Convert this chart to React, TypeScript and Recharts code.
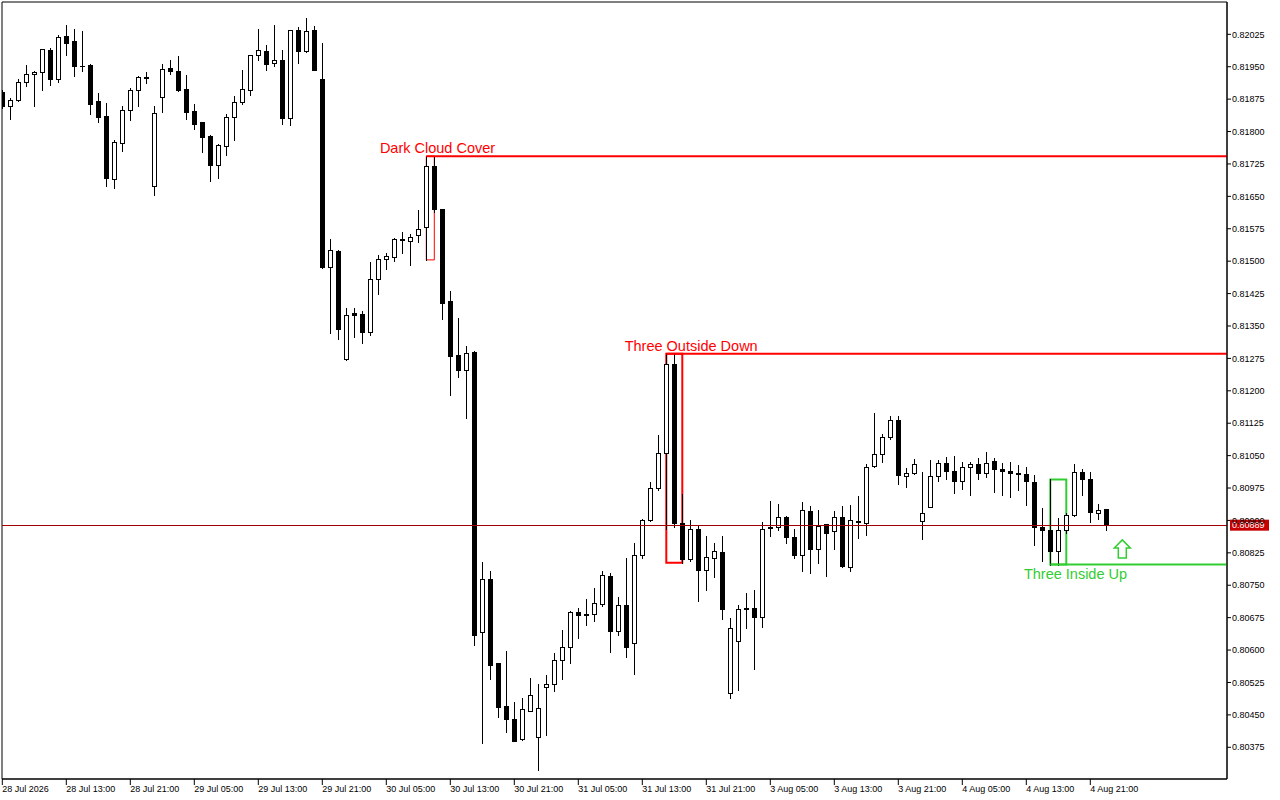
import React from "react";
import { Bar, ComposedChart, ReferenceArea, ReferenceDot, ReferenceLine, XAxis, YAxis } from "recharts";

// hourly OHLC, 28 Jul 05:00 .. 4 Aug 23:00
const opens = [
  0.81892, 0.81858, 0.81872, 0.81914, 0.81933, 0.81937, 0.81988, 0.81922, 0.8202, 0.82009,
  0.81952, 0.81954, 0.8187, 0.81835, 0.81691, 0.81773, 0.81849, 0.81895, 0.81926, 0.81673,
  0.81881, 0.81946, 0.8194, 0.81898, 0.81847, 0.81821, 0.8179, 0.81723, 0.81767, 0.81833,
  0.81869, 0.81897, 0.81976, 0.81986, 0.81958, 0.81965, 0.81831, 0.82034, 0.81987, 0.82034,
  0.81922, 0.81487, 0.81524, 0.81273, 0.81379, 0.81378, 0.81337, 0.81458, 0.81504, 0.8151,
  0.81551, 0.81547, 0.8156, 0.81578, 0.8172, 0.8162, 0.81408, 0.81283, 0.81247, 0.8129,
  0.80641, 0.80764, 0.8057, 0.80471, 0.80441, 0.80394, 0.8046, 0.80398, 0.80514, 0.80521,
  0.80576, 0.80608, 0.80688, 0.80684, 0.80683, 0.80707, 0.80771, 0.80645, 0.80704, 0.80616,
  0.80819, 0.809, 0.80974, 0.81056, 0.81261, 0.80894, 0.8081, 0.8088, 0.80785, 0.80812,
  0.80827, 0.805, 0.80622, 0.80698, 0.80697, 0.80677, 0.80885, 0.80884, 0.80907, 0.80861,
  0.80819, 0.80921, 0.80835, 0.80891, 0.80875, 0.80907, 0.80793, 0.80898, 0.80893, 0.81025,
  0.81053, 0.81092, 0.81132, 0.81002, 0.81009, 0.80898, 0.80931, 0.81002, 0.81032, 0.81014,
  0.80991, 0.81023, 0.8103, 0.81009, 0.81037, 0.81018, 0.81014, 0.81009, 0.81007, 0.80988,
  0.80884, 0.80879, 0.80829, 0.80877, 0.80912, 0.81012, 0.80995, 0.80917, 0.80926,
];
const highs = [
  0.81896, 0.81878, 0.81922, 0.81954, 0.81939, 0.81991, 0.81993, 0.82023, 0.82047, 0.82037,
  0.82033, 0.81956, 0.81889, 0.81865, 0.8178, 0.81858, 0.819, 0.81928, 0.81938, 0.81858,
  0.81956, 0.81965, 0.81975, 0.81931, 0.81864, 0.81822, 0.81791, 0.81771, 0.81841, 0.81882,
  0.81942, 0.81977, 0.82037, 0.82, 0.82047, 0.81988, 0.82035, 0.82041, 0.82062, 0.82044,
  0.82006, 0.81552, 0.81526, 0.81391, 0.81391, 0.81385, 0.81499, 0.81514, 0.8152, 0.81553,
  0.81567, 0.81562, 0.81618, 0.81743, 0.81743, 0.81621, 0.81431, 0.81368, 0.81304, 0.81291,
  0.80804, 0.80783, 0.80571, 0.80598, 0.80479, 0.80489, 0.80536, 0.80522, 0.80542, 0.80593,
  0.80647, 0.80691, 0.80697, 0.80718, 0.80744, 0.80783, 0.80778, 0.80723, 0.80814, 0.80847,
  0.80903, 0.80989, 0.81097, 0.81285, 0.81286, 0.80961, 0.809, 0.80886, 0.80864, 0.80847,
  0.80864, 0.80674, 0.80704, 0.80732, 0.80739, 0.80897, 0.80945, 0.80938, 0.8091, 0.8088,
  0.80942, 0.80933, 0.80924, 0.80892, 0.80921, 0.80933, 0.80935, 0.80956, 0.8103, 0.81148,
  0.81099, 0.81141, 0.81141, 0.81021, 0.81042, 0.81012, 0.81039, 0.81039, 0.81046, 0.81049,
  0.81035, 0.81035, 0.81044, 0.81058, 0.81044, 0.81032, 0.81035, 0.81028, 0.81023, 0.81005,
  0.80928, 0.80995, 0.80905, 0.80918, 0.8103, 0.81018, 0.81012, 0.80937, 0.80927,
];
const lows = [
  0.81854, 0.8183, 0.8187, 0.81906, 0.81858, 0.81895, 0.81908, 0.81915, 0.81976, 0.81929,
  0.81939, 0.81841, 0.81821, 0.81675, 0.8167, 0.81756, 0.81827, 0.8186, 0.81912, 0.81652,
  0.81846, 0.81934, 0.81894, 0.8183, 0.81807, 0.81753, 0.81686, 0.81693, 0.81746, 0.81781,
  0.81864, 0.81885, 0.81966, 0.81943, 0.81952, 0.81818, 0.81814, 0.81959, 0.81983, 0.81942,
  0.81484, 0.81333, 0.81319, 0.81272, 0.81325, 0.81311, 0.81328, 0.81423, 0.81483, 0.81501,
  0.8152, 0.81491, 0.81544, 0.81503, 0.81614, 0.81366, 0.8119, 0.81233, 0.81138, 0.80612,
  0.80386, 0.80532, 0.80444, 0.80411, 0.80389, 0.80393, 0.80458, 0.80323, 0.80404, 0.80506,
  0.80534, 0.8057, 0.80629, 0.80657, 0.80668, 0.80702, 0.80596, 0.80635, 0.80585, 0.80545,
  0.80812, 0.80899, 0.80971, 0.8088, 0.80884, 0.80802, 0.80807, 0.80714, 0.80738, 0.8077,
  0.80673, 0.8049, 0.80508, 0.80652, 0.80556, 0.80654, 0.80865, 0.80879, 0.80847, 0.80812,
  0.80784, 0.80779, 0.80802, 0.80772, 0.80835, 0.80793, 0.80782, 0.8086, 0.80867, 0.81024,
  0.81035, 0.81089, 0.80985, 0.80978, 0.81008, 0.80856, 0.8093, 0.80991, 0.80995, 0.80963,
  0.80972, 0.80958, 0.80995, 0.81, 0.80965, 0.80958, 0.80954, 0.8097, 0.80935, 0.80843,
  0.80806, 0.80798, 0.80798, 0.80871, 0.80911, 0.80958, 0.80896, 0.80903, 0.80879,
];
const closes = [
  0.81859, 0.81873, 0.81914, 0.81933, 0.81938, 0.8199, 0.81922, 0.82018, 0.82006, 0.81952,
  0.81951, 0.81864, 0.81834, 0.81693, 0.81775, 0.81849, 0.81895, 0.81926, 0.81925, 0.81842,
  0.81944, 0.81941, 0.81895, 0.81846, 0.81818, 0.81788, 0.81723, 0.81768, 0.81833, 0.81868,
  0.81898, 0.81976, 0.81988, 0.81957, 0.81965, 0.81832, 0.82034, 0.81987, 0.82032, 0.81943,
  0.81487, 0.81525, 0.81344, 0.81376, 0.81376, 0.81337, 0.81458, 0.81504, 0.81512, 0.81551,
  0.8155, 0.81557, 0.81575, 0.8172, 0.8162, 0.81404, 0.81281, 0.81248, 0.81287, 0.80636,
  0.80764, 0.80566, 0.80469, 0.80441, 0.8039, 0.80463, 0.80496, 0.80465, 0.80521, 0.80576,
  0.80608, 0.80688, 0.80681, 0.80681, 0.80708, 0.80773, 0.80645, 0.80704, 0.80608, 0.80819,
  0.809, 0.80975, 0.81056, 0.81261, 0.80894, 0.8081, 0.8088, 0.80785, 0.80815, 0.80829,
  0.80696, 0.80651, 0.80695, 0.80695, 0.80677, 0.8088, 0.80883, 0.80907, 0.80861, 0.80819,
  0.80924, 0.80835, 0.80888, 0.80872, 0.80907, 0.80795, 0.809, 0.80897, 0.81023, 0.81053,
  0.81093, 0.81132, 0.81004, 0.81009, 0.8103, 0.80917, 0.81002, 0.81032, 0.81014, 0.80991,
  0.81023, 0.8103, 0.81009, 0.81032, 0.81018, 0.81014, 0.81009, 0.81008, 0.80991, 0.80884,
  0.80879, 0.80829, 0.80877, 0.80912, 0.81012, 0.80995, 0.80919, 0.80924, 0.80889,
];

const tickBars = [0, 8, 16, 24, 32, 40, 48, 56, 64, 72, 80, 88, 96, 104, 112, 120, 128, 136];
const tickLabels = [
  "28 Jul 2026", "28 Jul 13:00", "28 Jul 21:00", "29 Jul 05:00", "29 Jul 13:00", "29 Jul 21:00",
  "30 Jul 05:00", "30 Jul 13:00", "30 Jul 21:00", "31 Jul 05:00", "31 Jul 13:00", "31 Jul 21:00",
  "3 Aug 05:00", "3 Aug 13:00", "3 Aug 21:00", "4 Aug 05:00", "4 Aug 13:00", "4 Aug 21:00",
];
const priceTicks = [
  0.80375, 0.8045, 0.80525, 0.806, 0.80675, 0.8075, 0.80825, 0.809, 0.80975, 0.8105, 0.81125,
  0.812, 0.81275, 0.8135, 0.81425, 0.815, 0.81575, 0.8165, 0.81725, 0.818, 0.81875, 0.8195, 0.82025,
];

const patterns = [
  { name: "Dark Cloud Cover", first: 53, last: 54, bullish: false, labelBar: 47.2, thin: true },
  { name: "Three Outside Down", first: 83, last: 85, bullish: false, labelBar: 77.8, thin: false },
  { name: "Three Inside Up", first: 131, last: 133, bullish: true, labelBar: 127.7, thin: false },
];
const signalArrow = { bar: 140, price: 0.80855 };

const FONT = '"Liberation Sans", Arial, sans-serif';
const BEAR = "#ff0000";
const BULL = "#32cd32";
const X_DOMAIN: [number, number] = [-0.0375, 153.0875];
const Y_DOMAIN: [number, number] = [0.803016, 0.820998];

const candles = opens.map((o, i) => ({
  i,
  o,
  h: highs[i],
  l: lows[i],
  c: closes[i],
  range: [lows[i], highs[i]],
}));
const lastClose = closes[closes.length - 1];

function Candle(props: any) {
  const { x, y, width, height } = props;
  const d = props.payload ?? props;
  if (d == null || d.h == null) return null;
  const top = Math.min(y, y + height);
  const span = Math.abs(height);
  const py = (p: number) => top + ((d.h - p) / (d.h - d.l)) * span;
  const cx = Math.round(x + width / 2);
  const yH = Math.round(py(d.h));
  const yL = Math.round(py(d.l));
  const yTop = Math.round(py(Math.max(d.o, d.c)));
  const yBot = Math.round(py(Math.min(d.o, d.c)));
  const bull = d.c >= d.o;
  return (
    <g shapeRendering="crispEdges">
      <line x1={cx + 0.5} x2={cx + 0.5} y1={yH} y2={yL + 1} stroke="#000" strokeWidth={1} />
      {yBot - yTop < 1 ? (
        <line x1={cx - 2} x2={cx + 3} y1={yTop + 0.5} y2={yTop + 0.5} stroke="#000" strokeWidth={1} />
      ) : (
        <rect
          x={cx - 1.5}
          y={yTop + 0.5}
          width={4}
          height={yBot - yTop}
          fill={bull ? "#fff" : "#000"}
          stroke="#000"
          strokeWidth={1}
        />
      )}
    </g>
  );
}

function TimeTick({ x, y, payload }: any) {
  const k = tickBars.indexOf(payload.value);
  return (
    <text x={x} y={y + 5} fontSize={9} fontFamily={FONT} fill="#000" textAnchor="start">
      {tickLabels[k]}
    </text>
  );
}

export default function App() {
  return (
    <div style={{ position: "absolute", left: 0, top: 0, width: 1280, height: 800, background: "#fff" }}>
      <ComposedChart
        width={1280}
        height={800}
        data={candles}
        margin={{ top: 2, right: 0, bottom: 0, left: 2 }}
      >
        <XAxis
          dataKey="i"
          type="number"
          domain={X_DOMAIN}
          allowDataOverflow
          ticks={tickBars}
          interval={0}
          height={21}
          tickSize={6}
          tickMargin={2}
          axisLine={{ stroke: "#000" }}
          tickLine={{ stroke: "#000" }}
          tick={<TimeTick />}
        />
        <YAxis
          orientation="right"
          type="number"
          domain={Y_DOMAIN}
          allowDataOverflow
          ticks={priceTicks}
          interval={0}
          width={53}
          tickSize={4}
          tickMargin={1}
          axisLine={{ stroke: "#000" }}
          tickLine={{ stroke: "#000" }}
          tick={{ fill: "#000", fontSize: 9, fontFamily: FONT }}
          tickFormatter={(v: number) => v.toFixed(5)}
        />
        <ReferenceArea
          x1={X_DOMAIN[0]}
          x2={X_DOMAIN[1]}
          y1={Y_DOMAIN[0]}
          y2={Y_DOMAIN[1]}
          fill="none"
          stroke="#000"
          strokeWidth={1}
          ifOverflow="visible"
        />
        <ReferenceLine y={lastClose} stroke="#a00000" strokeWidth={1} shapeRendering="crispEdges" />
        <Bar dataKey="range" barSize={5} isAnimationActive={false} shape={(p: any) => <Candle {...p} />} />

        {patterns.map((pt) => {
          const hi = Math.max(...highs.slice(pt.first, pt.last + 1));
          const lo = Math.min(...lows.slice(pt.first, pt.last + 1));
          const level = pt.bullish ? lo : hi;
          const color = pt.bullish ? BULL : BEAR;
          return (
            <React.Fragment key={pt.name}>
              <ReferenceArea
                x1={pt.first}
                x2={pt.last}
                y1={lo}
                y2={hi}
                fill="none"
                fillOpacity={0}
                stroke={color}
                strokeWidth={pt.thin ? 1 : 2}
                ifOverflow="visible"
              />
              <ReferenceLine
                segment={[
                  { x: pt.first, y: level },
                  { x: X_DOMAIN[1], y: level },
                ]}
                stroke={color}
                strokeWidth={2}
                ifOverflow="visible"
              />
              <ReferenceDot
                x={pt.labelBar}
                y={level}
                r={1}
                ifOverflow="visible"
                shape={(p: any) => (
                  <text
                    x={p.cx}
                    y={p.cy + (pt.bullish ? 14 : -3)}
                    fill={color}
                    fontSize={14.5}
                    fontFamily={FONT}
                    textAnchor="start"
                  >
                    {pt.name}
                  </text>
                )}
              />
            </React.Fragment>
          );
        })}

        <ReferenceDot
          x={signalArrow.bar}
          y={signalArrow.price}
          r={1}
          ifOverflow="visible"
          shape={(p: any) => {
            const { cx, cy } = p;
            const d = `M${cx},${cy} L${cx + 8},${cy + 8} L${cx + 4},${cy + 8} L${cx + 4},${cy + 18} L${cx - 4},${cy + 18} L${cx - 4},${cy + 8} L${cx - 8},${cy + 8} Z`;
            return <path d={d} fill="#fff" stroke={BULL} strokeWidth={1.5} />;
          }}
        />

        <ReferenceDot
          x={X_DOMAIN[1]}
          y={lastClose}
          r={1}
          ifOverflow="visible"
          shape={(p: any) => (
            <g>
              <rect x={p.cx + 3} y={p.cy - 5.5} width={39} height={11} fill="#c80000" />
              <text x={p.cx + 5} y={p.cy + 3.3} fill="#fff" fontSize={9} fontFamily={FONT}>
                {lastClose.toFixed(5)}
              </text>
            </g>
          )}
        />
      </ComposedChart>
    </div>
  );
}
